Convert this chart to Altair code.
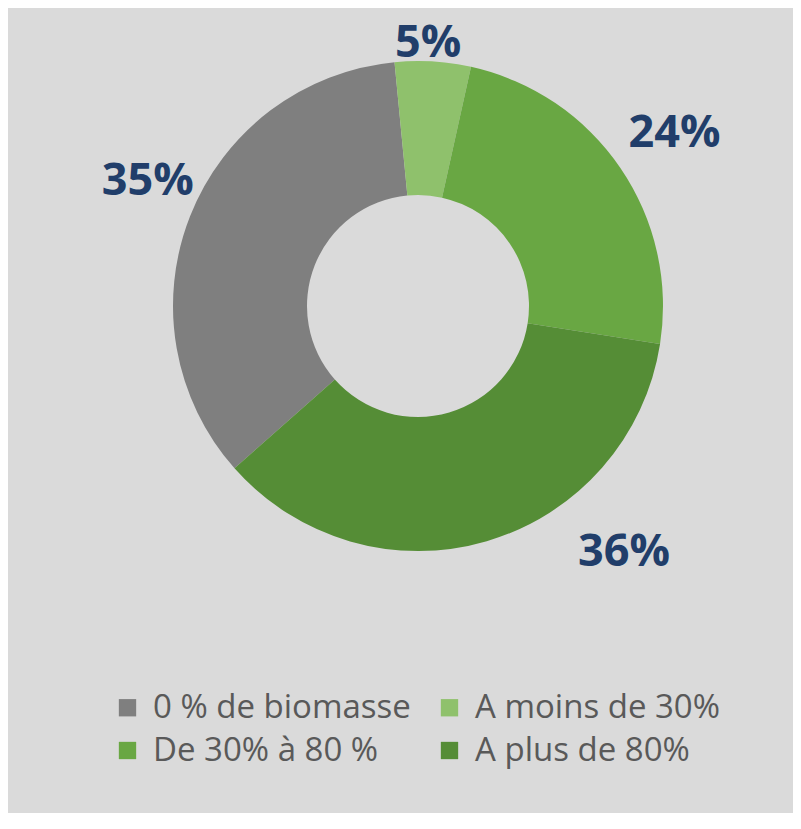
import math
import altair as alt
import pandas as pd

# ---- data ----
categories = ["0 % de biomasse", "A moins de 30%", "De 30% à 80 %", "A plus de 80%"]
values = [35, 5, 24, 36]
labels = ["35%", "5%", "24%", "36%"]
ring_order = [4, 1, 2, 3]  # clockwise position around the ring, from the top

colors = ["#7f7f7f", "#8fc16c", "#69a743", "#558d36"]

df = pd.DataFrame({"cat": categories, "value": values, "label": labels, "ring": ring_order})

# ---- styling ----
CX, CY = 410, 298
R_OUT, R_IN = 245, 111
start = 2 * math.pi - 5.5 * math.pi / 180
theta_scale = alt.Scale(domain=[0, 100], range=[start, start + 2 * math.pi])

color = alt.Color(
    "cat:N",
    scale=alt.Scale(domain=categories, range=colors),
    legend=alt.Legend(
        orient="none", legendX=103, legendY=683, columns=2, direction="horizontal", title=None,
        symbolType="square", symbolSize=300, symbolStrokeWidth=0, symbolOpacity=1,
        labelFont="Open Sans", labelFontSize=33, labelColor="#595959",
        columnPadding=22, rowPadding=9, labelOffset=9, labelLimit=0,
    ),
)

base = alt.Chart(df)

arcs = base.mark_arc(outerRadius=R_OUT, innerRadius=R_IN).encode(
    theta=alt.Theta("value:Q", stack=True, scale=theta_scale),
    order=alt.Order("ring:Q"),
    color=color,
    x=alt.value(CX),
    y=alt.value(CY),
)

# per-label placement (radius, dx, dy) -- manual label positions of the original
label_style = {"5%": (263, -6, 0), "24%": (308, 2, 1), "35%": (297, 6, -16), "36%": (321, 116, -62)}

layers = [arcs]
for lab, (r, dx, dy) in label_style.items():
    t = (
        base.transform_window(cum="sum(value)", sort=[alt.SortField("ring")], frame=[None, 0])
        .transform_calculate(mid="datum.cum - datum.value / 2")
        .transform_filter(alt.datum.label == lab)
        .mark_text(radius=r, dx=dx, dy=dy, font="Open Sans", fontWeight="bold", fontSize=45,
                   color="#213e6a", align="center", baseline="middle")
        .encode(theta=alt.Theta("mid:Q", scale=theta_scale), text="label:N",
                x=alt.value(CX), y=alt.value(CY))
    )
    layers.append(t)

chart = (
    alt.layer(*layers)
    .properties(width=785, height=805, padding=0, background="#dadada",
                autosize=alt.AutoSizeParams(type="none"))
    .configure_view(stroke=None)
)

chart.save("out.html", embed_options={"renderer": "svg", "actions": False})
